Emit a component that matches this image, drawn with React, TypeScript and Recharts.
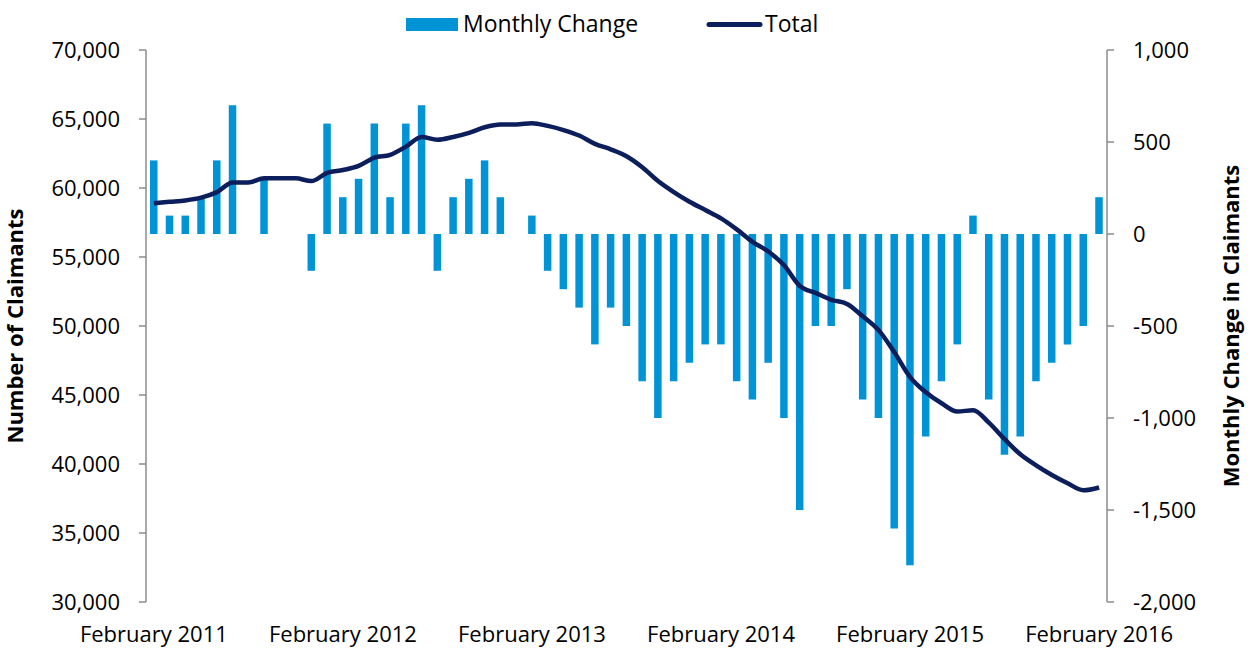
import React from "react";
import {
  Bar,
  ComposedChart,
  Label,
  Legend,
  Line,
  XAxis,
  YAxis,
} from "recharts";

// months Feb 2011 .. Feb 2016
const months = [
  "February 2011", "March 2011", "April 2011", "May 2011", "June 2011", "July 2011",
  "August 2011", "September 2011", "October 2011", "November 2011", "December 2011", "January 2012",
  "February 2012", "March 2012", "April 2012", "May 2012", "June 2012", "July 2012",
  "August 2012", "September 2012", "October 2012", "November 2012", "December 2012", "January 2013",
  "February 2013", "March 2013", "April 2013", "May 2013", "June 2013", "July 2013",
  "August 2013", "September 2013", "October 2013", "November 2013", "December 2013", "January 2014",
  "February 2014", "March 2014", "April 2014", "May 2014", "June 2014", "July 2014",
  "August 2014", "September 2014", "October 2014", "November 2014", "December 2014", "January 2015",
  "February 2015", "March 2015", "April 2015", "May 2015", "June 2015", "July 2015",
  "August 2015", "September 2015", "October 2015", "November 2015", "December 2015", "January 2016",
  "February 2016",
];

const totals = [
  58900, 59000, 59100, 59300, 59700, 60400, 60400, 60700, 60700, 60700,
  60500, 61100, 61300, 61600, 62200, 62400, 63000, 63700, 63500, 63700,
  64000, 64400, 64600, 64600, 64700, 64500, 64200, 63800, 63200, 62800,
  62300, 61500, 60500, 59700, 59000, 58400, 57800, 57000, 56100, 55400,
  54400, 52900, 52400, 51900, 51600, 50700, 49700, 48100, 46300, 45200,
  44400, 43800, 43900, 43000, 41800, 40700, 39900, 39200, 38600, 38100,
  38300,
];

const changes = [
  400, 100, 100, 200, 400, 700, 0, 300, 0, 0,
  -200, 600, 200, 300, 600, 200, 600, 700, -200, 200,
  300, 400, 200, 0, 100, -200, -300, -400, -600, -400,
  -500, -800, -1000, -800, -700, -600, -600, -800, -900, -700,
  -1000, -1500, -500, -500, -300, -900, -1000, -1600, -1800, -1100,
  -800, -600, 100, -900, -1200, -1100, -800, -700, -600, -500,
  200,
];

const leftTicks = [30000, 35000, 40000, 45000, 50000, 55000, 60000, 65000, 70000];
const rightTicks = [-2000, -1500, -1000, -500, 0, 500, 1000];

const data = months.map((m, i) => ({ month: m, total: totals[i], change: changes[i] }));

const BAR = "#0093d6";
const LINE = "#0c1f5c";
const AXIS = "#8c8c8c";
const FONT = '"Open Sans", sans-serif';

const fmt = (v: number) => v.toLocaleString("en-US");

function ChartLegend() {
  return (
    <svg width={1253} height={40} style={{ display: "block" }}>
      <rect x={406} y={18} width={52} height={13} fill={BAR} />
      <text x={463} y={32} fontSize={23} fill="#000" fontFamily={FONT}>
        Monthly Change
      </text>
      <line x1={709} y1={24.5} x2={760} y2={24.5} stroke={LINE} strokeWidth={5} strokeLinecap="round" />
      <text x={765} y={32} fontSize={23} fill="#000" fontFamily={FONT}>
        Total
      </text>
    </svg>
  );
}

export default function App() {
  const tick = { fontSize: 22, fill: "#000", fontFamily: FONT };
  const title = { fontSize: 22, fontWeight: 700, fill: "#000", fontFamily: FONT };
  return (
    <div style={{ position: "absolute", left: 0, top: 0, fontFamily: FONT }}>
      <ComposedChart
        width={1253}
        height={650}
        data={data}
        margin={{ top: 50, right: 0, bottom: 0, left: 0 }}
      >
        <XAxis
          dataKey="month"
          interval={11}
          axisLine={false}
          tickLine={false}
          tickSize={0}
          tickMargin={24}
          height={48}
          tick={tick}
        />
        <YAxis
          yAxisId="left"
          width={146}
          domain={[30000, 70000]}
          ticks={leftTicks}
          tickFormatter={fmt}
          axisLine={{ stroke: AXIS, strokeWidth: 1.5 }}
          tickLine={{ stroke: AXIS, strokeWidth: 1.5 }}
          tickSize={7}
          tickMargin={19}
          tick={tick}
        >
          <Label value="Number of Claimants" angle={-90} position="center" dx={-58} style={title} />
        </YAxis>
        <YAxis
          yAxisId="right"
          orientation="right"
          width={146}
          domain={[-2000, 1000]}
          ticks={rightTicks}
          tickFormatter={fmt}
          axisLine={{ stroke: AXIS, strokeWidth: 1.5 }}
          tickLine={{ stroke: AXIS, strokeWidth: 1.5 }}
          tickSize={7}
          tickMargin={19}
          tick={{ ...tick, textAnchor: "start" }}
        >
          <Label value="Monthly Change in Claimants" angle={-90} position="center" dx={51} style={title} />
        </YAxis>
        <Legend
          verticalAlign="middle"
          align="center"
          content={() => <ChartLegend />}
          wrapperStyle={{ top: 0, left: 0, width: 1253, height: 40 }}
        />
        <Bar
          yAxisId="right"
          dataKey="change"
          name="Monthly Change"
          fill={BAR}
          barSize={7.5}
          isAnimationActive={false}
        />
        <Line
          yAxisId="left"
          dataKey="total"
          name="Total"
          type="monotone"
          stroke={LINE}
          strokeWidth={4.5}
          dot={false}
          activeDot={false}
          isAnimationActive={false}
        />
      </ComposedChart>
    </div>
  );
}
